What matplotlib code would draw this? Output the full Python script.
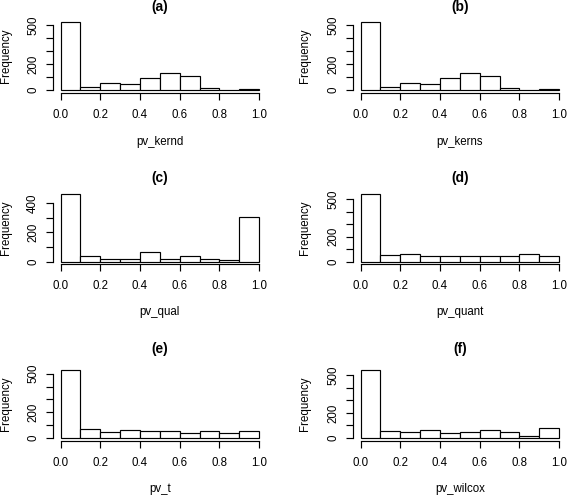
import numpy as np
import matplotlib
matplotlib.use("Agg")
import matplotlib.pyplot as plt

plt.rcParams['font.family'] = ['Liberation Sans', 'DejaVu Sans']

# ---- data (histogram counts, 10 bins on [0, 1]) ----
bin_edges = [0.0, 0.1, 0.2, 0.3, 0.4, 0.5, 0.6, 0.7, 0.8, 0.9, 1.0]
pv_kernd = [523, 21, 52, 46, 93, 131, 111, 14, 1, 7]
pv_kerns = [523, 21, 52, 46, 93, 131, 111, 14, 1, 7]
pv_qual = [463, 41, 21, 16, 66, 21, 39, 21, 14, 301]
pv_quant = [546, 54, 60, 43, 49, 49, 49, 43, 60, 43]
pv_t = [529, 68, 50, 63, 55, 52, 39, 52, 39, 52]
pv_wilcox = [543, 57, 49, 62, 36, 46, 60, 46, 16, 76]

titles = ["(a)", "(b)", "(c)", "(d)", "(e)", "(f)"]
xlabels = ["pv_kernd", "pv_kerns", "pv_qual", "pv_quant", "pv_t", "pv_wilcox"]
series = [pv_kernd, pv_kerns, pv_qual, pv_quant, pv_t, pv_wilcox]
ytick_max = [500, 500, 400, 500, 500, 500]
x_ticks = [0.0, 0.2, 0.4, 0.6, 0.8, 1.0]
x_ticklabels = ["0.0", "0.2", "0.4", "0.6", "0.8", "1.0"]

W, H = 567, 496
fig = plt.figure(figsize=(W / 100, H / 100), dpi=100)

col_left = [52.6, 352.6]
plot_w = 214.4
row_bottom = [92.7, 264.4, 440.7]
plot_h = 73.4
title_y = [7.5, 177.7, 348.5]
xlabel_y = [142.0, 311.7, 489.0]
ylabel_x = [6.0, 305.0]

FS = 8.3
edges = np.array(bin_edges)
for i, counts in enumerate(series):
    r, c = divmod(i, 2)
    left = col_left[c]
    bottom = row_bottom[r]
    top = bottom - plot_h
    ax = fig.add_axes([left / W, 1 - bottom / H, plot_w / W, plot_h / H])
    ax.hist(edges[:-1], bins=edges, weights=counts, facecolor='white',
            edgecolor='black', linewidth=0.85)
    M = max(counts)
    ax.set_xlim(-0.04, 1.04)
    ax.set_ylim(-0.04 * M, 1.04 * M)
    for s in ['top', 'right']:
        ax.spines[s].set_visible(False)
    ax.spines['left'].set_bounds(0, ytick_max[i])
    ax.spines['bottom'].set_bounds(0, 1)
    for s in ['left', 'bottom']:
        ax.spines[s].set_linewidth(0.85)
    yt = list(range(0, ytick_max[i] + 1, 100))
    ylabs = [str(v) if v in (0, 200, ytick_max[i]) else "" for v in yt]
    ax.set_yticks(yt)
    ax.set_yticklabels(ylabs, rotation=90, va='center', ha='center', fontsize=FS)
    ax.set_xticks(x_ticks)
    ax.set_xticklabels(x_ticklabels, fontsize=FS)
    ax.tick_params(axis='both', direction='out', length=5.2, width=0.85)
    ax.tick_params(axis='y', pad=8.9)
    ax.tick_params(axis='x', pad=6.3)
    ax.set_xlabel(xlabels[i], fontsize=FS)
    ax.xaxis.label.set_va('center')
    ax.xaxis.set_label_coords(0.5, -(xlabel_y[r] - bottom) / plot_h)
    ax.set_ylabel("Frequency", fontsize=FS)
    ax.yaxis.label.set_va('center')
    ax.yaxis.set_label_coords((ylabel_x[c] - left) / plot_w, 0.5)
    ax.set_title(titles[i], fontsize=9.9, fontweight='bold',
                 y=1 + (top - title_y[r]) / plot_h, va='center', pad=0)

fig.savefig("out.png", dpi=100)
